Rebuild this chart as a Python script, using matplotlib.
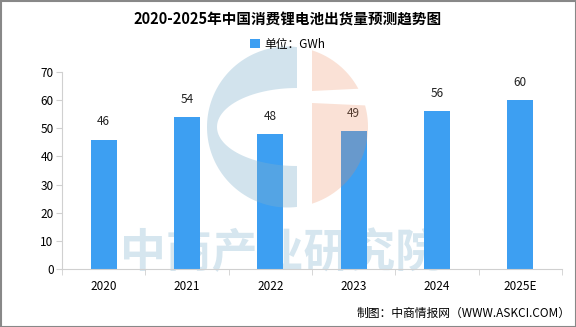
import matplotlib
matplotlib.use("Agg")
from matplotlib import pyplot as plt
from matplotlib.patches import Polygon, Rectangle
import numpy as np

plt.rcParams['font.family'] = ['Noto Sans CJK SC', 'DejaVu Sans']

# data
years = ['2020', '2021', '2022', '2023', '2024', '2025E']
shipments = [46, 54, 48, 49, 56, 60]
yticks = [0, 10, 20, 30, 40, 50, 60, 70]

bar_color = '#3d9ff2'
axis_gray = '#d0d0d0'

fig = plt.figure(figsize=(5.76, 3.27), dpi=100)

# watermark text behind the bars
back = fig.add_axes([0, 0, 1, 1], zorder=0)
back.set_xlim(0, 576)
back.set_ylim(327, 0)
back.axis('off')
back.text(281, 254, '中商产业研究院', ha='center', va='center', fontsize=33,
          fontweight='bold', color='#d6e6ef')

ax = fig.add_axes([0.1076, 0.177, 0.868, 0.603], zorder=1)
ax.patch.set_alpha(0)

x = list(range(len(years)))
ax.bar(x, shipments, width=0.31, color=bar_color, label='单位：GWh', zorder=2)
for xi, v in zip(x, shipments):
    ax.text(xi, v + 4, str(v), ha='center', va='bottom', fontsize=8.5, color='#222222')

ax.set_xlim(-0.5, len(years) - 0.5)
ax.set_ylim(0, 70)
ax.set_yticks(yticks)
ax.set_xticks(x)
ax.set_xticklabels(years)
ax.set_xticks([i - 0.5 for i in range(len(years) + 1)], minor=True)
ax.tick_params(axis='x', which='major', length=0, pad=8, labelsize=8.5)
ax.tick_params(axis='x', which='minor', length=4, color=axis_gray)
ax.tick_params(axis='y', length=4, color=axis_gray, labelsize=8.5, pad=2)
for s in ['top', 'right']:
    ax.spines[s].set_visible(False)
ax.spines['left'].set_color(axis_gray)
ax.spines['bottom'].set_color(axis_gray)

fig.text(0.5, 0.94, '2020-2025年中国消费锂电池出货量预测趋势图', ha='center', va='center',
         fontsize=10.5, fontweight='bold')
fig.legend(loc='center', bbox_to_anchor=(0.5, 0.865), frameon=False, fontsize=8.5,
           handlelength=0.8, handleheight=0.8, handletextpad=0.4)

fig.text(0.99, 0.043, '制图：中商情报网（WWW.ASKCI.COM）', ha='right', va='center', fontsize=8.5)

# logo watermark on top, translucent (pixel coordinates)
wm = fig.add_axes([0, 0, 1, 1], zorder=5)
wm.set_xlim(0, 576)
wm.set_ylim(327, 0)
wm.axis('off')
cx, cy, r = 287.5, 127, 80.5
cut = 297
a0 = np.arccos((cut - cx) / r)
t = np.linspace(a0, 2 * np.pi - a0, 80)
outer = np.column_stack([cx + r * np.cos(t), cy - r * np.sin(t)])
ti = np.linspace(1.5 * np.pi, 0.5 * np.pi, 60)
inner = np.column_stack([cut + 80 * np.cos(ti), cy - 39 * np.sin(ti)])
ring = np.vstack([outer, inner])
wm.add_patch(Polygon(ring, closed=True, color='#7fb0cc', alpha=0.35, lw=0))

left = 312
b0 = np.arccos((left - cx) / r)
tt = np.linspace(b0, -b0, 80)
half = np.column_stack([cx + r * np.cos(tt), cy - r * np.sin(tt)])
top = half[half[:, 1] <= 91]
bot = half[half[:, 1] >= 103]
top = np.vstack([top, [[left, 91]]])
bot = np.vstack([[[left, 103]], bot])
for piece in (top, bot):
    wm.add_patch(Polygon(piece, closed=True, color='#ec8a5c', alpha=0.25, lw=0))

# figure border
wm.add_patch(Rectangle((0.5, 0.5), 575, 326, fill=False, ec='#888888', lw=1.5))

fig.savefig('out.png', dpi=100)
